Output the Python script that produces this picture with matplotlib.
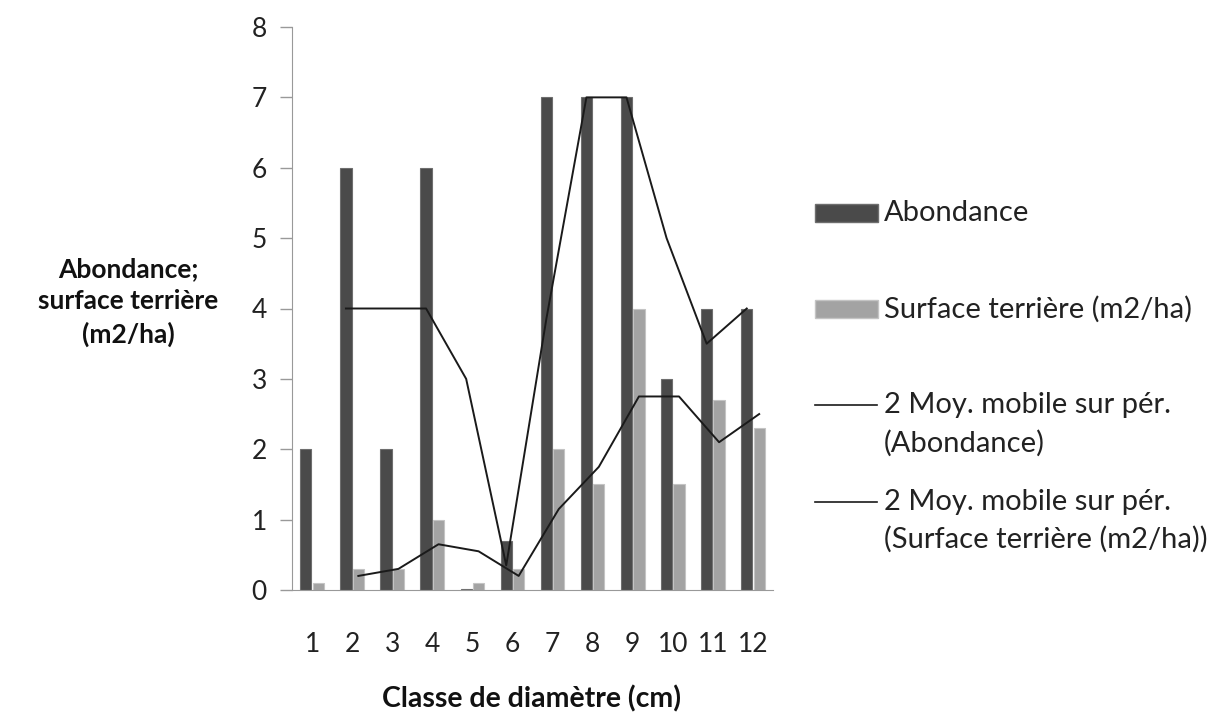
import numpy as np
import matplotlib.pyplot as plt
from matplotlib.patches import Rectangle
from matplotlib.lines import Line2D

plt.rcParams['font.family'] = ['Lato', 'DejaVu Sans']

# Données
classes = ['1', '2', '3', '4', '5', '6', '7', '8', '9', '10', '11', '12']
abondance = [2, 6, 2, 6, 0.02, 0.7, 7, 7, 7, 3, 4, 4]
surface = [0.1, 0.3, 0.3, 1.0, 0.1, 0.3, 2.0, 1.5, 4.0, 1.5, 2.7, 2.3]
# Moyennes mobiles sur 2 périodes (à partir de la classe 2)
mm_abondance = [4, 4, 4, 3, 0.35, 3.85, 7, 7, 5, 3.5, 4]
mm_surface = [0.2, 0.3, 0.65, 0.55, 0.2, 1.15, 1.75, 2.75, 2.75, 2.1, 2.5]

W, H = 1219, 715
fig = plt.figure(figsize=(W / 100, H / 100), dpi=100)
ax = fig.add_axes([292 / W, 1 - 590 / H, 481 / W, 563 / H])

x = np.arange(1, len(classes) + 1)
bw = 0.28
off = 0.155
ax.bar(x - off, abondance, width=bw, color='#4a4a4a', edgecolor='#6e6e6e', linewidth=0.8, zorder=2)
ax.bar(x + off, surface, width=bw, color='#a3a3a3', edgecolor='#c4c4c4', linewidth=0.8, zorder=2)

ax.plot(x[1:] - off, mm_abondance, color='#1a1a1a', lw=1.4, zorder=3)
ax.plot(x[1:] + off, mm_surface, color='#1a1a1a', lw=1.4, zorder=3)

ax.set_xlim(0.5, 12.5)
ax.set_ylim(0, 8)
ax.set_xticks(x)
ax.set_xticklabels(classes)
ax.set_yticks(range(0, 9))
ax.tick_params(axis='x', length=0, pad=30, labelsize=19, labelcolor='#222222')
ax.tick_params(axis='y', length=9, width=1, color='#999999', pad=9, labelsize=19, labelcolor='#222222')
for s in ['top', 'right']:
    ax.spines[s].set_visible(False)
ax.spines['left'].set_color('#999999')
ax.spines['bottom'].set_color('#999999')

fig.text(531 / W, 1 - 699 / H, 'Classe de diamètre (cm)', ha='center', va='center',
         fontsize=20.5, fontweight='bold', color='#111111')
fig.text(128 / W, 1 - 302 / H, 'Abondance;\nsurface terrière\n(m2/ha)', ha='center', va='center',
         fontsize=19, fontweight='bold', color='#111111', linespacing=1.4)

# Légende dessinée à la main (poignées alignées sur la première ligne comme dans Excel)
def fx(px):
    return px / W

def fy(py):
    return 1 - py / H

fig.add_artist(Rectangle((fx(815), fy(222)), fx(878) - fx(815), fy(204) - fy(222),
                         transform=fig.transFigure, facecolor='#4a4a4a', edgecolor='#6e6e6e'))
fig.add_artist(Rectangle((fx(815), fy(318)), fx(878) - fx(815), fy(300) - fy(318),
                         transform=fig.transFigure, facecolor='#a3a3a3', edgecolor='#c4c4c4'))
fig.add_artist(Line2D([fx(815), fx(877)], [fy(405), fy(405)], transform=fig.transFigure,
                      color='#1a1a1a', lw=1.2))
fig.add_artist(Line2D([fx(815), fx(877)], [fy(502), fy(502)], transform=fig.transFigure,
                      color='#1a1a1a', lw=1.2))

leg_kw = dict(ha='left', va='center', fontsize=21, color='#222222')
fig.text(fx(884), fy(213), 'Abondance', **leg_kw)
fig.text(fx(884), fy(309), 'Surface terrière (m2/ha)', **leg_kw)
fig.text(fx(884), fy(405), '2 Moy. mobile sur pér.', **leg_kw)
fig.text(fx(884), fy(443), '(Abondance)', **leg_kw)
fig.text(fx(884), fy(502), '2 Moy. mobile sur pér.', **leg_kw)
fig.text(fx(884), fy(539), '(Surface terrière (m2/ha))', **leg_kw)

fig.savefig('out.png', dpi=100, facecolor='white')
